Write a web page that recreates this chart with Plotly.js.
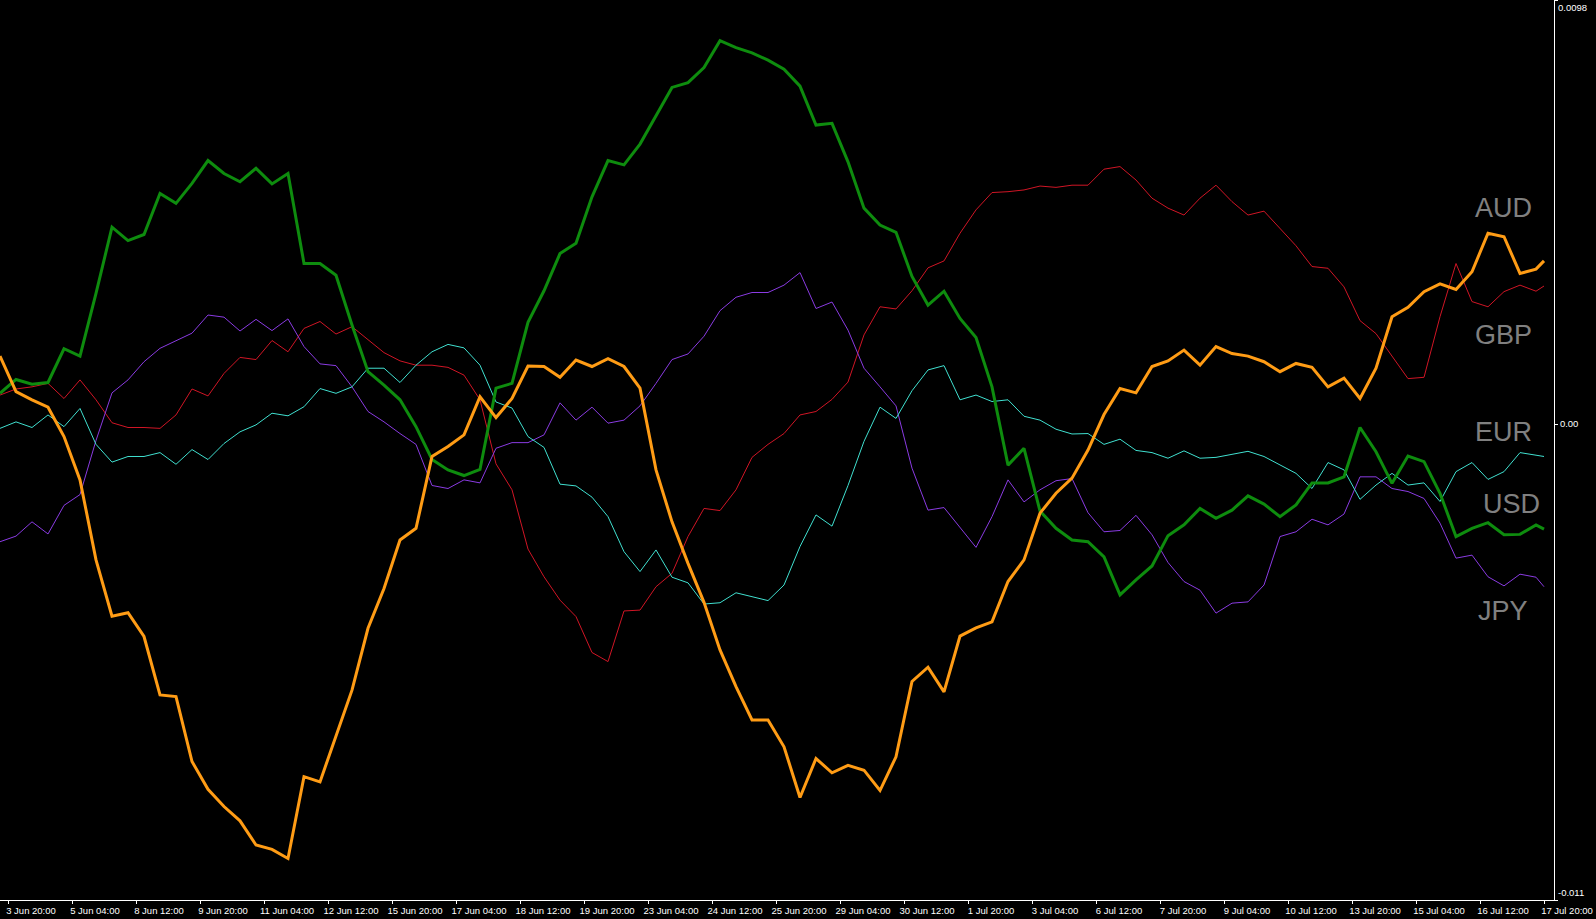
<!DOCTYPE html>
<html>
<head>
<meta charset="utf-8">
<script src="https://cdn.plot.ly/plotly-3.0.1.min.js"></script>
<style>
html,body{margin:0;padding:0;background:#000;overflow:hidden}
#chart{width:1596px;height:919px}
</style>
</head>
<body>
<div id="chart"></div>
<script>
// ---- data (H4 bars; one sample every 2 bars, last bar included) ----
const currencies = ['AUD', 'GBP', 'EUR', 'USD', 'JPY'];

const tickLabels = ['3 Jun 20:00', '5 Jun 04:00', '8 Jun 12:00', '9 Jun 20:00', '11 Jun 04:00',
  '12 Jun 12:00', '15 Jun 20:00', '17 Jun 04:00', '18 Jun 12:00', '19 Jun 20:00', '23 Jun 04:00',
  '24 Jun 12:00', '25 Jun 20:00', '29 Jun 04:00', '30 Jun 12:00', '1 Jul 20:00', '3 Jul 04:00',
  '6 Jul 12:00', '7 Jul 20:00', '9 Jul 04:00', '10 Jul 12:00', '13 Jul 20:00', '15 Jul 04:00',
  '16 Jul 12:00', '17 Jul 20:00'];

const yTickVals = [0.0098, 0, -0.011];
const yTickText = ['0.0098', '0.00', '-0.011'];

const barsPerLabel = 8;
const firstLabelBar = 1;
const lastBar = 193;
const sampleBars = Array.from({length: 97}, (_, k) => 2 * k).concat([lastBar]);

const AUD = [
  0.00157, 0.00075, 0.00056, 0.00039, -0.00029, -0.00129, -0.00314, -0.00444, -0.00436, -0.00491,
  -0.00626, -0.00630, -0.00780, -0.00844, -0.00884, -0.00917, -0.00973, -0.00983, -0.01004, -0.00815,
  -0.00827, -0.00723, -0.00615, -0.00472, -0.00380, -0.00268, -0.00241, -0.00075, -0.00052, -0.00025,
  0.00063, 0.00015, 0.00059, 0.00134, 0.00133, 0.00108, 0.00148, 0.00133, 0.00151, 0.00133,
  0.00083, -0.00106, -0.00226, -0.00322, -0.00412, -0.00522, -0.00607, -0.00684, -0.00684, -0.00746,
  -0.00863, -0.00773, -0.00806, -0.00789, -0.00800, -0.00847, -0.00769, -0.00595, -0.00562, -0.00619,
  -0.00490, -0.00471, -0.00457, -0.00364, -0.00314, -0.00206, -0.00160, -0.00125, -0.00060, 0.00022,
  0.00082, 0.00072, 0.00133, 0.00146, 0.00171, 0.00136, 0.00179, 0.00163, 0.00157, 0.00144,
  0.00121, 0.00140, 0.00131, 0.00086, 0.00106, 0.00059, 0.00129, 0.00248, 0.00270, 0.00306,
  0.00324, 0.00311, 0.00352, 0.00441, 0.00433, 0.00348, 0.00358, 0.00377];

const USD = [
  0.00071, 0.00103, 0.00092, 0.00096, 0.00174, 0.00157, 0.00302, 0.00455, 0.00424, 0.00438,
  0.00533, 0.00510, 0.00556, 0.00609, 0.00579, 0.00560, 0.00591, 0.00555, 0.00579, 0.00371,
  0.00371, 0.00344, 0.00229, 0.00121, 0.00090, 0.00056, -0.00006, -0.00082, -0.00106, -0.00119,
  -0.00105, 0.00083, 0.00094, 0.00235, 0.00308, 0.00394, 0.00418, 0.00525, 0.00609, 0.00599,
  0.00647, 0.00712, 0.00778, 0.00789, 0.00824, 0.00886, 0.00870, 0.00858, 0.00841, 0.00820,
  0.00781, 0.00691, 0.00695, 0.00606, 0.00499, 0.00460, 0.00443, 0.00341, 0.00275, 0.00307,
  0.00244, 0.00200, 0.00086, -0.00095, -0.00056, -0.00201, -0.00241, -0.00268, -0.00272, -0.00307,
  -0.00395, -0.00360, -0.00328, -0.00258, -0.00233, -0.00195, -0.00218, -0.00199, -0.00166, -0.00185,
  -0.00214, -0.00187, -0.00136, -0.00136, -0.00122, -0.00008, -0.00064, -0.00137, -0.00074, -0.00087,
  -0.00160, -0.00260, -0.00241, -0.00228, -0.00256, -0.00255, -0.00233, -0.00243];

const GBP = [
  0.00067, 0.00081, 0.00086, 0.00094, 0.00059, 0.00102, 0.00056, 0.00003, -0.00008, -0.00008,
  -0.00010, 0.00021, 0.00081, 0.00065, 0.00117, 0.00154, 0.00149, 0.00193, 0.00167, 0.00221,
  0.00237, 0.00208, 0.00225, 0.00196, 0.00165, 0.00146, 0.00136, 0.00136, 0.00131, 0.00113,
  0.00056, -0.00092, -0.00152, -0.00289, -0.00353, -0.00407, -0.00445, -0.00528, -0.00549, -0.00432,
  -0.00430, -0.00376, -0.00345, -0.00260, -0.00195, -0.00200, -0.00152, -0.00077, -0.00047, -0.00022,
  0.00021, 0.00029, 0.00057, 0.00097, 0.00206, 0.00271, 0.00266, 0.00308, 0.00361, 0.00377,
  0.00441, 0.00495, 0.00535, 0.00537, 0.00541, 0.00550, 0.00547, 0.00552, 0.00552, 0.00589,
  0.00595, 0.00564, 0.00522, 0.00499, 0.00483, 0.00522, 0.00552, 0.00514, 0.00483, 0.00492,
  0.00451, 0.00412, 0.00364, 0.00360, 0.00317, 0.00239, 0.00209, 0.00157, 0.00105, 0.00108,
  0.00248, 0.00371, 0.00283, 0.00271, 0.00306, 0.00321, 0.00307, 0.00319];

const JPY = [
  -0.00272, -0.00259, -0.00226, -0.00254, -0.00188, -0.00163, -0.00038, 0.00072, 0.00102, 0.00144,
  0.00175, 0.00193, 0.00210, 0.00252, 0.00247, 0.00215, 0.00242, 0.00216, 0.00243, 0.00179,
  0.00139, 0.00135, 0.00086, 0.00029, 0.00005, -0.00022, -0.00047, -0.00142, -0.00149, -0.00129,
  -0.00136, -0.00056, -0.00043, -0.00043, -0.00025, 0.00049, 0.00009, 0.00039, 0.00002, 0.00009,
  0.00042, 0.00094, 0.00149, 0.00162, 0.00203, 0.00262, 0.00293, 0.00304, 0.00304, 0.00321,
  0.00350, 0.00267, 0.00282, 0.00217, 0.00129, 0.00086, 0.00042, -0.00102, -0.00199, -0.00193,
  -0.00239, -0.00285, -0.00214, -0.00129, -0.00180, -0.00152, -0.00131, -0.00126, -0.00205, -0.00249,
  -0.00246, -0.00211, -0.00256, -0.00320, -0.00364, -0.00384, -0.00437, -0.00414, -0.00411, -0.00372,
  -0.00260, -0.00249, -0.00220, -0.00233, -0.00208, -0.00122, -0.00122, -0.00149, -0.00156, -0.00172,
  -0.00229, -0.00310, -0.00303, -0.00353, -0.00374, -0.00347, -0.00354, -0.00376];

const EUR = [
  -0.00010, 0.00005, -0.00008, 0.00021, -0.00006, 0.00036, -0.00047, -0.00088, -0.00075, -0.00075,
  -0.00066, -0.00093, -0.00059, -0.00082, -0.00045, -0.00018, -0.00002, 0.00025, 0.00019, 0.00040,
  0.00082, 0.00071, 0.00086, 0.00129, 0.00129, 0.00096, 0.00136, 0.00167, 0.00184, 0.00176,
  0.00136, 0.00051, 0.00037, -0.00029, -0.00054, -0.00139, -0.00143, -0.00169, -0.00214, -0.00295,
  -0.00341, -0.00291, -0.00354, -0.00367, -0.00416, -0.00413, -0.00390, -0.00399, -0.00408, -0.00372,
  -0.00283, -0.00210, -0.00236, -0.00142, -0.00040, 0.00039, 0.00013, 0.00077, 0.00125, 0.00135,
  0.00056, 0.00067, 0.00052, 0.00056, 0.00018, 0.00009, -0.00012, -0.00023, -0.00022, -0.00047,
  -0.00035, -0.00061, -0.00066, -0.00079, -0.00062, -0.00079, -0.00077, -0.00070, -0.00063, -0.00075,
  -0.00095, -0.00114, -0.00149, -0.00089, -0.00106, -0.00174, -0.00141, -0.00114, -0.00141, -0.00136,
  -0.00179, -0.00110, -0.00089, -0.00128, -0.00110, -0.00066, -0.00072, -0.00075];

// ---- styles ----
const seriesData = {AUD: AUD, GBP: GBP, EUR: EUR, USD: USD, JPY: JPY};
const seriesStyle = {
  GBP: {color: '#D01525', width: 1},
  JPY: {color: '#8A3BE2', width: 1},
  EUR: {color: '#40E0D0', width: 1},
  USD: {color: '#0E8C0E', width: 3},
  AUD: {color: '#FF9C15', width: 3}
};
const drawOrder = ['GBP', 'JPY', 'EUR', 'USD', 'AUD'];
const labelPos = {
  AUD: [0.9674, 0.7686],
  GBP: [0.9674, 0.6278],
  EUR: [0.9675, 0.5203],
  USD: [0.9726, 0.4403],
  JPY: [0.9672, 0.3213]
};

const axisFont = {family: 'Liberation Sans, Arial, sans-serif', size: 9.5, color: '#ffffff'};

const traces = drawOrder.map(name => ({
  type: 'scatter',
  mode: 'lines',
  name: name,
  x: sampleBars,
  y: seriesData[name],
  line: {color: seriesStyle[name].color, width: seriesStyle[name].width, shape: 'linear'},
  hoverinfo: 'skip'
}));

const annotations = currencies.map(name => ({
  xref: 'paper', yref: 'paper',
  x: labelPos[name][0], y: labelPos[name][1],
  xanchor: 'center', yanchor: 'middle',
  text: name, showarrow: false,
  font: {family: 'Liberation Sans, Arial, sans-serif', size: 27, color: '#808080'}
}));
annotations.push({
  xref: 'paper', yref: 'y', x: 1, y: yTickVals[0], xanchor: 'left', yanchor: 'top',
  xshift: 2, yshift: 0, text: yTickText[0], showarrow: false, font: axisFont
});
annotations.push({
  xref: 'paper', yref: 'y', x: 1, y: yTickVals[2], xanchor: 'left', yanchor: 'bottom',
  xshift: 2, yshift: 0, text: yTickText[2], showarrow: false, font: axisFont
});

const layout = {
  width: 1596, height: 919,
  paper_bgcolor: '#000000', plot_bgcolor: '#000000',
  margin: {l: 0, r: 42, t: 0, b: 19, pad: 0},
  showlegend: false,
  xaxis: {
    range: [0, 194.25],
    showgrid: false, zeroline: false,
    showline: true, linecolor: '#ffffff', linewidth: 1,
    tickmode: 'array',
    tickvals: tickLabels.map((_, k) => firstLabelBar + barsPerLabel * k),
    ticktext: tickLabels,
    ticks: 'outside', ticklen: 3, tickwidth: 1, tickcolor: '#ffffff',
    tickangle: 0,
    tickfont: axisFont,
    ticklabelshift: 23,
    ticklabelstandoff: -1,
    ticklabeloverflow: 'allow',
    fixedrange: true
  },
  yaxis: {
    range: [yTickVals[2], yTickVals[0]],
    side: 'right',
    showgrid: false, zeroline: false,
    showline: true, linecolor: '#ffffff', linewidth: 1,
    tickmode: 'array',
    tickvals: yTickVals,
    ticktext: yTickText.map((t, k) => (k === 1 ? t : '')),
    ticks: 'outside', ticklen: 3, tickwidth: 1, tickcolor: '#ffffff',
    tickfont: axisFont,
    ticklabeloverflow: 'allow',
    fixedrange: true
  },
  annotations: annotations
};

Plotly.newPlot('chart', traces, layout, {staticPlot: true, displayModeBar: false, responsive: false});
</script>
</body>
</html>
